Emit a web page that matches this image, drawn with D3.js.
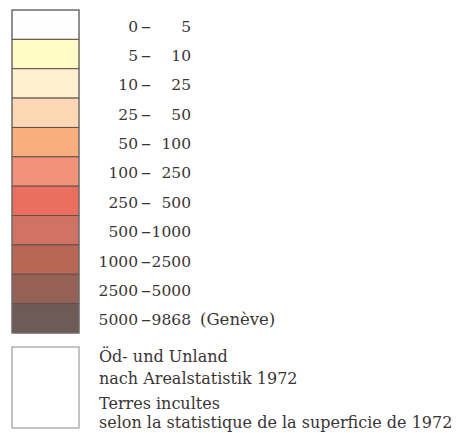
<!DOCTYPE html>
<html lang="de">
  <head>
    <meta charset="UTF-8" />
    <title>Legende Bevölkerungsdichte</title>
    <style>
      html,
      body {
        margin: 0;
        background: #fff;
      }
      text {
        font-family: "DejaVu Serif", serif;
        fill: #3a3434;
      }
    </style>
  </head>
  <body>
    <div id="legend"></div>
    <script src="https://cdnjs.cloudflare.com/ajax/libs/d3/7.8.5/d3.min.js"></script>
    <script>
      // classes (lower / upper bound) and their fill colours
      const lower = ["0", "5", "10", "25", "50", "100", "250", "500", "1000", "2500", "5000"];
      const upper = ["5", "10", "25", "50", "100", "250", "500", "1000", "2500", "5000", "9868"];
      const notes = ["", "", "", "", "", "", "", "", "", "", "(Genève)"];
      const colors = [
        "#fefefe", "#fffbc6", "#fef0cf", "#fcd7b3", "#f7b07c", "#f3927a",
        "#ea6f5e", "#d07364", "#b96656", "#956055", "#6e5b57"
      ];
      const extraLines = [
        "Öd- und Unland",
        "nach Arealstatistik 1972",
        "Terres incultes",
        "selon la statistique de la superficie de 1972"
      ];

      const width = 461,
        height = 433;

      const svg = d3
        .select("#legend")
        .append("svg")
        .attr("width", width)
        .attr("height", height);

      const idx = d3.range(lower.length);
      const y = d3.scaleBand().domain(idx).range([10, 333]).padding(0);
      const boxX = 12,
        boxW = 67,
        fs = 15.5;

      const rows = svg
        .selectAll("g.row")
        .data(idx)
        .join("g")
        .attr("class", "row")
        .attr("transform", (i) => `translate(0,${y(i)})`);

      rows
        .append("rect")
        .attr("x", boxX)
        .attr("y", 0)
        .attr("width", boxW)
        .attr("height", y.bandwidth())
        .attr("fill", (i) => colors[i])
        .attr("stroke", "#5e504c")
        .attr("stroke-width", 1);

      const base = y.bandwidth() / 2 + 7;

      rows
        .append("text")
        .attr("x", 138)
        .attr("y", base)
        .attr("text-anchor", "end")
        .attr("font-size", fs)
        .text((i) => lower[i]);

      // wider dash, as in the printed legend
      rows
        .append("text")
        .attr("x", 146)
        .attr("y", base + 1)
        .attr("text-anchor", "middle")
        .attr("font-size", 20)
        .text("–");

      rows
        .append("text")
        .attr("x", 191)
        .attr("y", base)
        .attr("text-anchor", "end")
        .attr("font-size", fs)
        .text((i) => upper[i]);

      rows
        .append("text")
        .attr("x", 200)
        .attr("y", base)
        .attr("font-size", 16.5)
        .text((i) => notes[i]);

      // outer frame of the scale
      svg
        .append("rect")
        .attr("x", boxX)
        .attr("y", 10)
        .attr("width", boxW)
        .attr("height", 323)
        .attr("fill", "none")
        .attr("stroke", "#777")
        .attr("stroke-width", 1);

      // unproductive land box
      svg
        .append("rect")
        .attr("x", boxX)
        .attr("y", 347)
        .attr("width", boxW)
        .attr("height", 81)
        .attr("fill", "#fff")
        .attr("stroke", "#888")
        .attr("stroke-width", 1);

      const lineY = [362, 384, 409, 428];
      svg
        .selectAll("text.extra")
        .data(extraLines)
        .join("text")
        .attr("class", "extra")
        .attr("x", 99)
        .attr("y", (d, i) => lineY[i])
        .attr("font-size", 16)
        .text((d) => d);
    </script>
  </body>
</html>
